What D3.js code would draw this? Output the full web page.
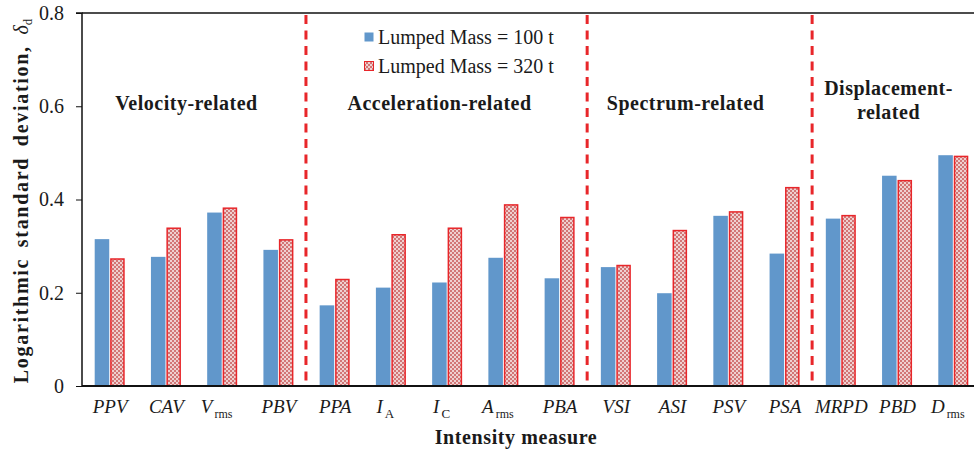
<!DOCTYPE html>
<html>
<head>
<meta charset="utf-8">
<script src="https://cdn.jsdelivr.net/npm/d3@7"></script>
<style>
  body { margin: 0; background: #fff; }
  text { font-family: "Liberation Serif", "Times New Roman", "DejaVu Serif", serif; fill: #1a1a1a; }
</style>
</head>
<body>
<script>
// categories (main part of label + subscript)
var categories = ["PPV", "CAV", "Vrms", "PBV", "PPA", "IA", "IC", "Arms", "PBA",
  "VSI", "ASI", "PSV", "PSA", "MRPD", "PBD", "Drms"];
var labelMain = ["PPV", "CAV", "V", "PBV", "PPA", "I", "I", "A", "PBA",
  "VSI", "ASI", "PSV", "PSA", "MRPD", "PBD", "D"];
var labelSub = ["", "", "rms", "", "", "A", "C", "rms", "",
  "", "", "", "", "", "", "rms"];

// values
var mass100 = [0.315, 0.277, 0.372, 0.292, 0.173, 0.211, 0.222, 0.275, 0.231,
  0.255, 0.199, 0.365, 0.284, 0.359, 0.451, 0.495];
var mass320 = [0.274, 0.340, 0.383, 0.315, 0.230, 0.326, 0.340, 0.390, 0.363,
  0.260, 0.335, 0.375, 0.427, 0.367, 0.442, 0.494];

var seriesNames = ["Lumped Mass = 100 t", "Lumped Mass = 320 t"];
var yTicks = [0, 0.2, 0.4, 0.6, 0.8];

// groups of intensity measures
var groupNames = [["Velocity-related"], ["Acceleration-related"], ["Spectrum-related"], ["Displacement-", "related"]];
var groupFirst = [0, 4, 9, 13];
var groupLast = [3, 8, 12, 15];

var w = 974, h = 453;

var svg = d3.select("body").append("svg")
  .attr("width", w)
  .attr("height", h);

// pattern for the 320 t bars
var defs = svg.append("defs");
var pat = defs.append("pattern")
  .attr("id", "dots")
  .attr("patternUnits", "userSpaceOnUse")
  .attr("width", 4)
  .attr("height", 4);
pat.append("rect").attr("width", 4).attr("height", 4).attr("fill", "#efd0d0");
pat.append("rect").attr("width", 2).attr("height", 2).attr("fill", "#d27676");
pat.append("rect").attr("x", 2).attr("y", 2).attr("width", 2).attr("height", 2).attr("fill", "#d27676");

// scales
var step = 56.24;
var x0 = 81;
var xScale = d3.scaleBand()
  .domain(categories)
  .range([x0, x0 + step * categories.length])
  .padding(0);

var xSub = d3.scaleBand()
  .domain([0, 1])
  .range([13.7, 43.7])
  .paddingInner(0.06);

var yScale = d3.scaleLinear()
  .domain([0, 0.8])
  .range([386, 13]);

// bars for 100 t
svg.append("g").selectAll("rect")
  .data(mass100)
  .enter().append("rect")
  .attr("x", function(d, i) { return xScale(categories[i]) + xSub(0); })
  .attr("y", function(d) { return yScale(d); })
  .attr("width", xSub.bandwidth())
  .attr("height", function(d) { return yScale(0) - yScale(d); })
  .attr("fill", "#6197cb");

// bars for 320 t
svg.append("g").selectAll("rect")
  .data(mass320)
  .enter().append("rect")
  .attr("x", function(d, i) { return xScale(categories[i]) + xSub(1) + 0.75; })
  .attr("y", function(d) { return yScale(d) + 0.75; })
  .attr("width", xSub.bandwidth() - 1.5)
  .attr("height", function(d) { return yScale(0) - yScale(d) - 0.75; })
  .attr("fill", "url(#dots)")
  .attr("stroke", "#e8262a")
  .attr("stroke-width", 1.5);

// dashed separators between groups
svg.append("g").selectAll("line")
  .data(groupFirst.slice(1))
  .enter().append("line")
  .attr("x1", function(d) { return xScale(categories[d]); })
  .attr("x2", function(d) { return xScale(categories[d]); })
  .attr("y1", yScale(0.8) + 2)
  .attr("y2", yScale(0))
  .attr("stroke", "#e8262a")
  .attr("stroke-width", 3)
  .attr("stroke-dasharray", "9,6.5");

// top frame line
svg.append("line")
  .attr("x1", x0 + 1).attr("x2", w)
  .attr("y1", yScale(0.8)).attr("y2", yScale(0.8))
  .attr("stroke", "#111").attr("stroke-width", 1.5);

// x axis (line only)
var xAxis = svg.append("g")
  .attr("transform", "translate(0," + yScale(0) + ")")
  .call(d3.axisBottom(xScale).tickSize(0).tickFormat(""));
xAxis.select(".domain").attr("stroke", "#111").attr("stroke-width", 2)
  .attr("d", "M" + (x0 + 1) + ",0H" + w);

// x labels with subscripts
var xl = svg.append("g").selectAll("text")
  .data(categories)
  .enter().append("text")
  .attr("x", function(d, i) { return xScale(d) + xSub(1) - (labelSub[i] ? 6 : 0); })
  .attr("y", 413)
  .attr("text-anchor", "middle")
  .style("font-size", "19px");
xl.append("tspan")
  .style("font-style", "italic")
  .text(function(d, i) { return labelMain[i]; });
xl.append("tspan")
  .attr("dy", 5)
  .attr("dx", 2)
  .style("font-size", function(d, i) { return labelSub[i] == "rms" ? "12px" : "13px"; })
  .text(function(d, i) { return labelSub[i]; });

// y axis
var yAxis = svg.append("g")
  .attr("transform", "translate(" + (x0 + 1) + ",0)")
  .call(d3.axisLeft(yScale).tickValues(yTicks).tickSize(6).tickPadding(12)
    .tickFormat(function(d) { return d === 0 ? "0" : d3.format(".1f")(d); }));
yAxis.select(".domain").attr("stroke", "#111").attr("stroke-width", 1.5)
  .attr("d", "M-6," + yScale(0.8) + "H0V" + yScale(0));
yAxis.selectAll(".tick line").attr("stroke", "#111");
yAxis.selectAll(".tick text")
  .style("font-family", "'Liberation Serif', serif")
  .style("font-size", "20px")
  .attr("fill", "#1a1a1a");

// axis titles
svg.append("text")
  .attr("x", 516)
  .attr("y", 444)
  .attr("text-anchor", "middle")
  .style("font-weight", "bold")
  .style("font-size", "20px")
  .style("letter-spacing", "0.6px")
  .text("Intensity measure");

var yt = svg.append("text")
  .attr("transform", "translate(28,201) rotate(-90)")
  .attr("text-anchor", "middle")
  .style("font-size", "20px");
yt.append("tspan")
  .style("font-weight", "bold")
  .style("letter-spacing", "1.7px")
  .style("word-spacing", "4px")
  .text("Logarithmic standard deviation, ");
yt.append("tspan")
  .style("font-style", "italic")
  .text("\u03B4");
yt.append("tspan")
  .attr("dy", 4)
  .style("font-size", "13px")
  .text("d");

// group labels
var offsets = [-7, -7, -14, -8];
groupNames.forEach(function(lines, g) {
  var left = xScale(categories[groupFirst[g]]);
  var right = xScale(categories[groupLast[g]]) + step;
  var t = svg.append("text")
    .attr("x", (left + right) / 2 + offsets[g])
    .attr("y", lines.length > 1 ? 95 : 110)
    .attr("text-anchor", "middle")
    .style("font-weight", "bold")
    .style("font-size", "20px")
    .style("letter-spacing", "0.5px");
  lines.forEach(function(line, k) {
    t.append("tspan")
      .attr("x", (left + right) / 2 + offsets[g])
      .attr("dy", k === 0 ? 0 : 24)
      .text(line);
  });
});

// legend
var legend = svg.append("g").attr("transform", "translate(364,32)");
var swatchFill = ["#6197cb", "url(#dots)"];
seriesNames.forEach(function(name, i) {
  legend.append("rect")
    .attr("x", 0.5).attr("y", i * 29 + 0.5)
    .attr("width", 9).attr("height", 9)
    .attr("fill", swatchFill[i])
    .attr("stroke", i == 1 ? "#e8262a" : "none")
    .attr("stroke-width", 1);
  legend.append("text")
    .attr("x", 14)
    .attr("y", i * 29 + 11.5)
    .style("font-size", "20px")
    .text(name);
});
</script>
</body>
</html>
